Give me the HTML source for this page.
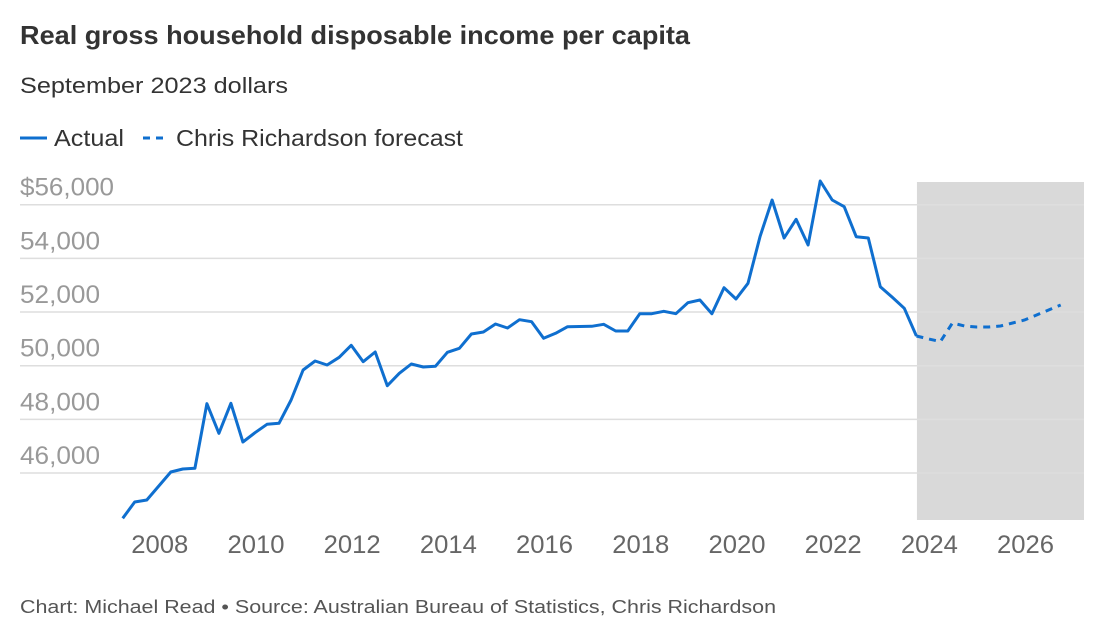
<!DOCTYPE html>
<html><head><meta charset="utf-8">
<style>
body{margin:0;background:#fff;width:1108px;height:634px;overflow:hidden;font-family:"Liberation Sans",sans-serif;}
svg text{font-family:"Liberation Sans",sans-serif;}
</style></head>
<body>
<svg id="chart" width="1108" height="634" xmlns="http://www.w3.org/2000/svg">
<text x="20" y="44" font-size="26" font-weight="bold" fill="#333" textLength="670" lengthAdjust="spacingAndGlyphs">Real gross household disposable income per capita</text>
<text x="20" y="93" font-size="22" fill="#333" textLength="268" lengthAdjust="spacingAndGlyphs">September 2023 dollars</text>
<g>
<line x1="20" y1="138" x2="47" y2="138" stroke="#0f6fcf" stroke-width="3"/>
<text x="54" y="146" font-size="23" fill="#333" textLength="70" lengthAdjust="spacingAndGlyphs">Actual</text>
<line x1="143" y1="138" x2="168" y2="138" stroke="#0f6fcf" stroke-width="3" stroke-dasharray="7,6"/>
<text x="176" y="146" font-size="23" fill="#333" textLength="287" lengthAdjust="spacingAndGlyphs">Chris Richardson forecast</text>
</g>
<g id="plot"></g>
<text x="20" y="613" font-size="18" fill="#555" textLength="756" lengthAdjust="spacingAndGlyphs">Chart: Michael Read • Source: Australian Bureau of Statistics, Chris Richardson</text>
</svg>
<script>
const actual=[44313,44920,44995,45516,46038,46150,46176,48584,47481,48599,47156,47503,47816,47853,48722,49840,50175,50026,50313,50760,50149,50511,49255,49717,50063,49952,49978,50499,50649,51181,51256,51554,51405,51714,51640,51021,51208,51454,51461,51468,51543,51293,51293,51938,51938,52027,51938,52348,52449,51938,52907,52486,53071,54808,56176,54759,55456,54498,56884,56176,55926,54808,54759,52944,52549,52139,51107];
const forecast=[51107,51000,50900,51591,51480,51442,51442,51480,51591,51703,51890,52076,52262];
const yTicks=[56000,54000,52000,50000,48000,46000];
const yTickLabels=["$56,000","54,000","52,000","50,000","48,000","46,000"];
const xTicks=[2008,2010,2012,2014,2016,2018,2020,2022,2024,2026];
const startYear=2007.25, forecastStart=2023.75;
const NS="http://www.w3.org/2000/svg";
const g=document.getElementById('plot');
const xS=t=>122.7+(t-startYear)*48.1;
const yS=v=>365.7-(v-50000)*0.02683;
function el(tag,attrs){const e=document.createElementNS(NS,tag);for(const k in attrs)e.setAttribute(k,attrs[k]);g.appendChild(e);return e;}
const shade=el('rect',{x:xS(forecastStart)+0.6,y:182,width:1084-xS(forecastStart)-0.6,height:338,fill:'#d9d9d9'});


yTicks.forEach((v,i)=>{
  const y=yS(v);
  const l=el('line',{x1:20,x2:1084,y1:y,y2:y,stroke:'#dedede','stroke-width':1.5});
  
  
  const lbl=yTickLabels[i];
  const t=el('text',{x:20,y:y-9,'font-size':25,fill:'#999',textLength:(lbl.length===7?94:80),lengthAdjust:'spacingAndGlyphs'});
  t.textContent=lbl;
  
  
});
xTicks.forEach(yr=>{
  const t=el('text',{x:xS(yr)+1,y:553,'font-size':25,fill:'#666','text-anchor':'middle',textLength:57,lengthAdjust:'spacingAndGlyphs'});
  t.textContent=yr;
  
  
});
const pa=actual.map((v,i)=>xS(startYear+i*0.25).toFixed(1)+','+yS(v).toFixed(1)).join(' ');
const la=el('polyline',{points:pa,fill:'none',stroke:'#0f6fcf','stroke-width':3,'stroke-linejoin':'round'});


const pf=forecast.map((v,i)=>xS(forecastStart+i*0.25).toFixed(1)+','+yS(v).toFixed(1)).join(' ');
const lf=el('polyline',{points:pf,fill:'none',stroke:'#0f6fcf','stroke-width':3,'stroke-dasharray':'7,6'});


</script>
</body></html>
